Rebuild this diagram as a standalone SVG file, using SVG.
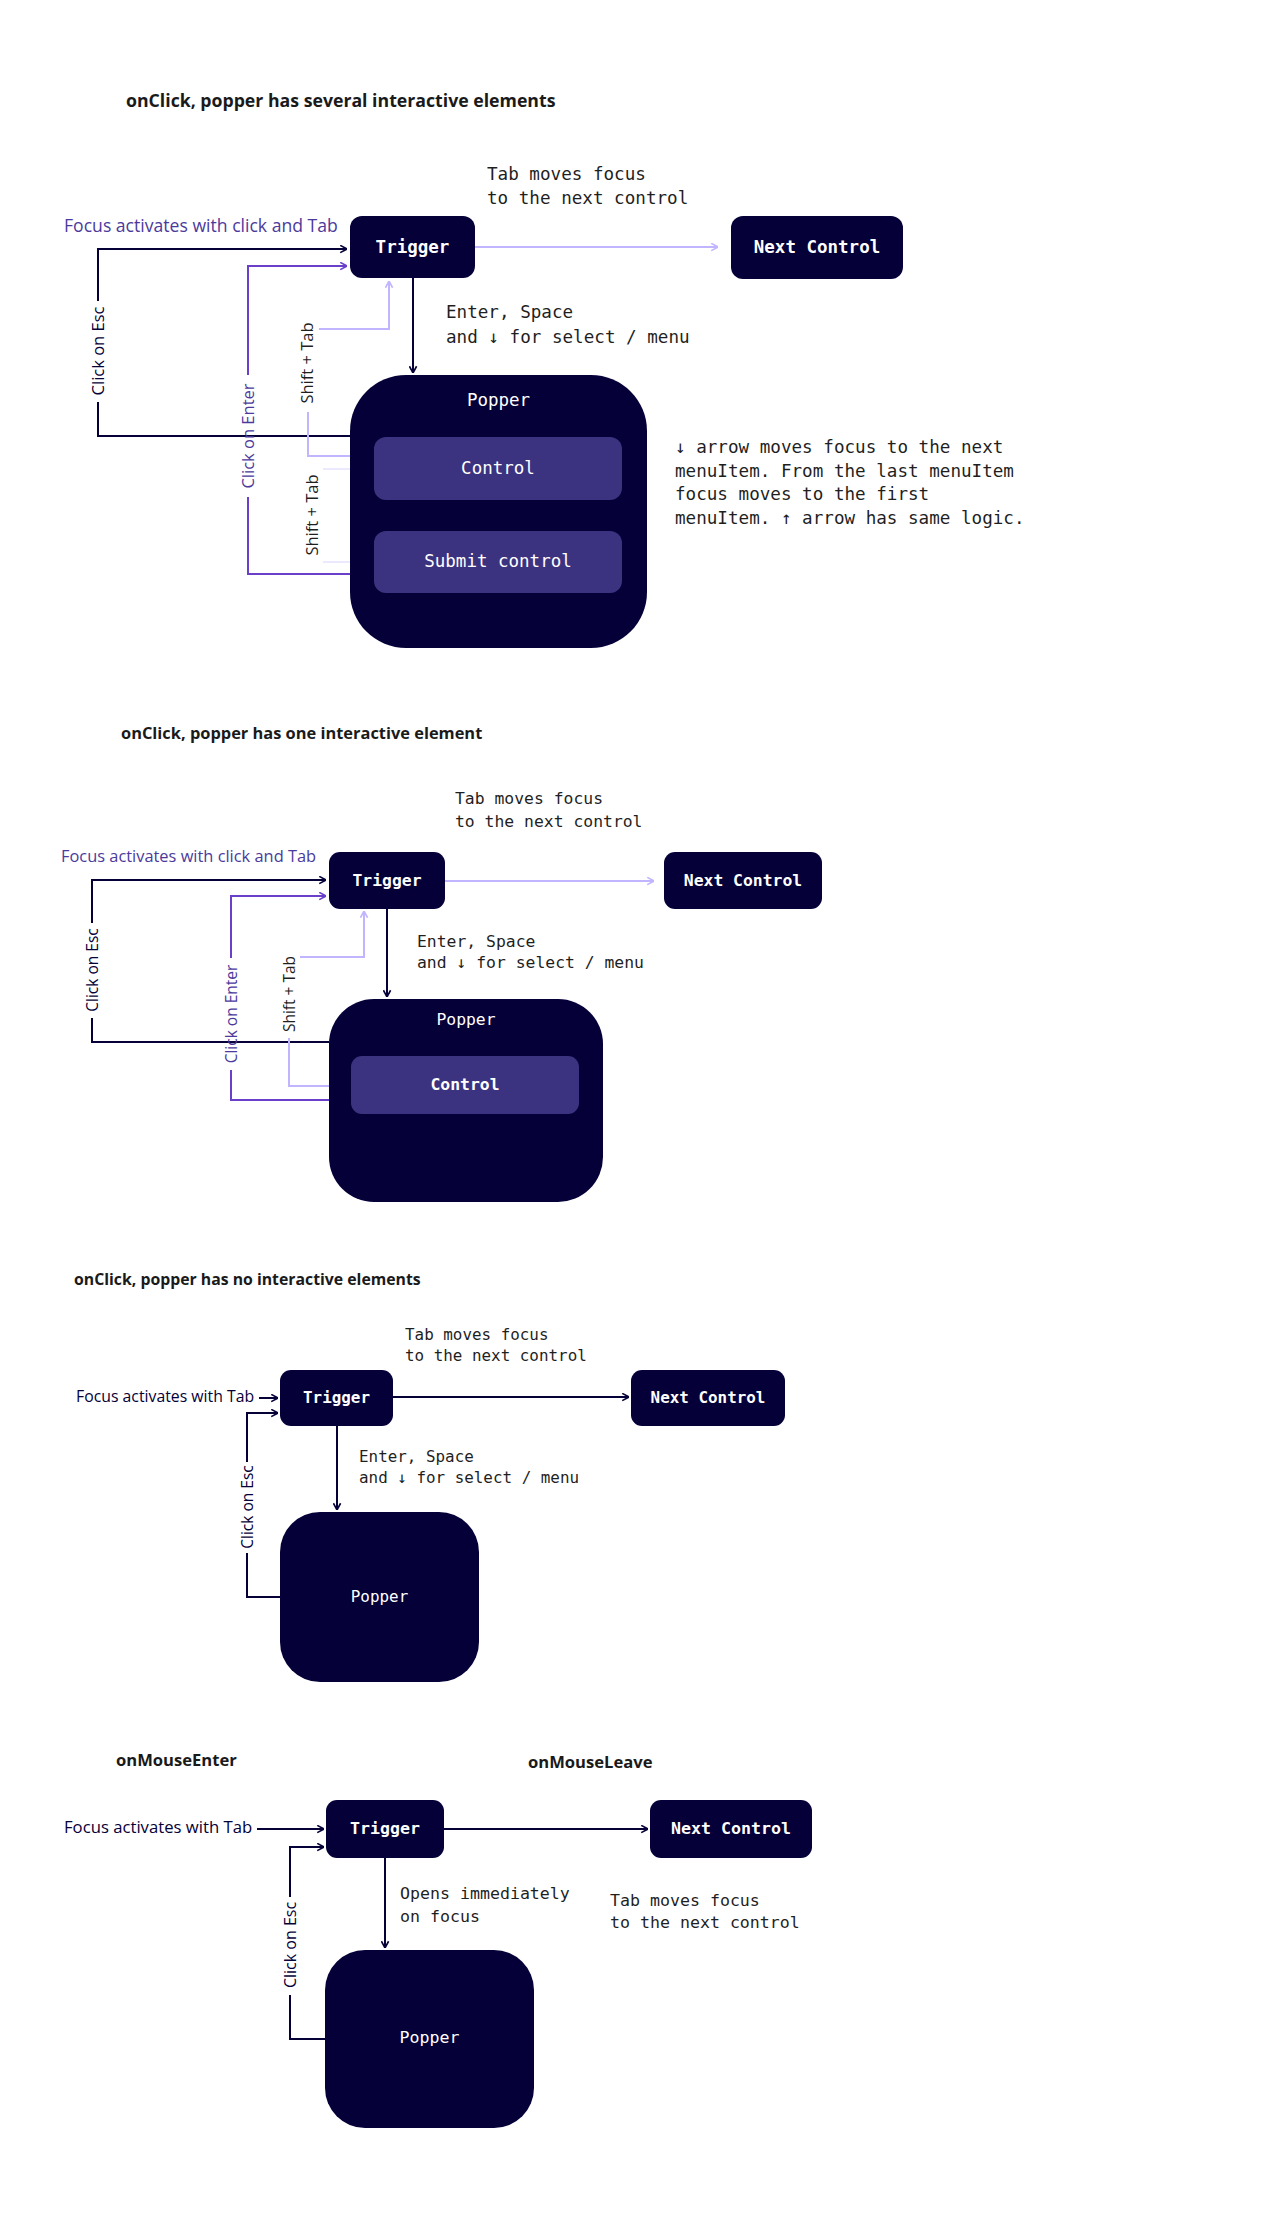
<svg xmlns="http://www.w3.org/2000/svg" width="1261" height="2222" viewBox="0 0 1261 2222">
<style>
.bg{fill:#ffffff}
.node{fill:#050038}
.inner{fill:#3c3380}
.title{font-family:"Open Sans","Noto Sans",sans-serif;font-weight:700;fill:#1a1a1a}
.mono{font-family:"DejaVu Sans Mono","Liberation Mono",monospace;fill:#1f1f1f}
.lbl{font-family:"DejaVu Sans Mono","Liberation Mono",monospace;fill:#ffffff;text-anchor:middle}
.b{font-weight:700}
.sans{font-family:"Open Sans","Noto Sans",sans-serif}
.purpleT{fill:#4b3a9c}
.navyT{fill:#050038}
.grayT{fill:#1f1f1f}
.navy{fill:none;stroke:#050038;stroke-width:2}
.purple{fill:none;stroke:#6a3fc9;stroke-width:2}
.lav{fill:none;stroke:#c2b5ff;stroke-width:2}
.faint{fill:none;stroke:#c9bfff;stroke-width:2;stroke-opacity:0.35}
</style>
<defs>
<marker id="aN" viewBox="0 0 10 10" refX="9.5" refY="5" markerWidth="9" markerHeight="9" markerUnits="userSpaceOnUse" orient="auto"><path d="M2,1 L9.5,5 L2,9" fill="none" stroke="#050038" stroke-width="1.8"/></marker>
<marker id="aP" viewBox="0 0 10 10" refX="9.5" refY="5" markerWidth="9" markerHeight="9" markerUnits="userSpaceOnUse" orient="auto"><path d="M2,1 L9.5,5 L2,9" fill="none" stroke="#6a3fc9" stroke-width="1.8"/></marker>
<marker id="aL" viewBox="0 0 10 10" refX="9.5" refY="5" markerWidth="9" markerHeight="9" markerUnits="userSpaceOnUse" orient="auto"><path d="M2,1 L9.5,5 L2,9" fill="none" stroke="#c2b5ff" stroke-width="1.8"/></marker>
</defs>
<rect class="bg" x="0" y="0" width="1261" height="2222"/>

<!-- ===== Section 1 ===== -->
<text class="title" font-size="17.7" x="126" y="107">onClick, popper has several interactive elements</text>
<g class="mono" font-size="17.6">
<text x="487" y="180">Tab moves focus</text>
<text x="487" y="204">to the next control</text>
<text x="446" y="318">Enter, Space</text>
<text x="446" y="343">and ↓ for select / menu</text>
<text x="675" y="453">↓ arrow moves focus to the next</text>
<text x="675" y="477">menuItem. From the last menuItem</text>
<text x="675" y="500">focus moves to the first</text>
<text x="675" y="524">menuItem. ↑ arrow has same logic.</text>
</g>
<text class="sans purpleT" font-size="17.6" x="64" y="232">Focus activates with click and Tab</text>

<g id="s1-connectors">
<path class="lav" d="M475,247 H718" marker-end="url(#aL)"/>
<path class="navy" d="M413,278 V373" marker-end="url(#aN)"/>
<path class="navy" d="M350,436 H98 V402"/>
<path class="navy" d="M98,301 V249 H347" marker-end="url(#aN)"/>
<path class="purple" d="M374,574 H248 V497"/>
<path class="purple" d="M248,375 V266 H347" marker-end="url(#aP)"/>
<path class="lav" d="M374,456 H308 V412"/>
<path class="lav" d="M319,329 H389 V281" marker-end="url(#aL)"/>
<path class="faint" d="M323,469 H374"/>
<path class="faint" d="M323,562 H374"/>
</g>
<text class="sans navyT" font-size="16.5" text-anchor="middle" transform="translate(104,351) rotate(-90)">Click on Esc</text>
<text class="sans purpleT" font-size="16.5" text-anchor="middle" transform="translate(254,436) rotate(-90)">Click on Enter</text>
<text class="sans grayT" font-size="16.5" text-anchor="middle" transform="translate(313,363) rotate(-90)">Shift + Tab</text>
<text class="sans grayT" font-size="16.5" text-anchor="middle" transform="translate(318,515) rotate(-90)">Shift + Tab</text>

<g id="s1-trigger"><rect class="node" x="350" y="216" width="125" height="62" rx="12"/><text class="lbl b" font-size="17.5" x="412.5" y="253">Trigger</text></g>
<g id="s1-next"><rect class="node" x="731" y="216" width="172" height="63" rx="12"/><text class="lbl b" font-size="17.5" x="817" y="253">Next Control</text></g>
<g id="s1-popper"><rect class="node" x="350" y="375" width="297" height="273" rx="56"/><text class="lbl" font-size="17.5" x="498.5" y="406">Popper</text></g>
<g id="s1-control"><rect class="inner" x="374" y="437" width="248" height="63" rx="12"/><text class="lbl" font-size="17.5" x="498" y="474">Control</text></g>
<g id="s1-submit"><rect class="inner" x="374" y="531" width="248" height="62" rx="12"/><text class="lbl" font-size="17.5" x="498" y="567">Submit control</text></g>

<!-- ===== Section 2 ===== -->
<text class="title" font-size="16.4" x="121" y="739">onClick, popper has one interactive element</text>
<g class="mono" font-size="16.4">
<text x="455" y="804">Tab moves focus</text>
<text x="455" y="827">to the next control</text>
<text x="417" y="947">Enter, Space</text>
<text x="417" y="968">and ↓ for select / menu</text>
</g>
<text class="sans purpleT" font-size="16.4" x="61" y="862">Focus activates with click and Tab</text>

<g id="s2-connectors">
<path class="lav" d="M445,881 H654" marker-end="url(#aL)"/>
<path class="navy" d="M387,909 V997" marker-end="url(#aN)"/>
<path class="navy" d="M329,1042 H92 V1018"/>
<path class="navy" d="M92,923 V880 H326" marker-end="url(#aN)"/>
<path class="purple" d="M351,1100 H231 V1070"/>
<path class="purple" d="M231,958 V896 H326" marker-end="url(#aP)"/>
<path class="lav" d="M300,957 H364 V911" marker-end="url(#aL)"/>
<path class="lav" d="M289,1038 V1086 H351"/>
</g>
<text class="sans navyT" font-size="15.5" text-anchor="middle" transform="translate(98,970) rotate(-90)">Click on Esc</text>
<text class="sans purpleT" font-size="15.5" text-anchor="middle" transform="translate(237,1014) rotate(-90)">Click on Enter</text>
<text class="sans grayT" font-size="15.5" text-anchor="middle" transform="translate(295,994) rotate(-90)">Shift + Tab</text>

<g id="s2-trigger"><rect class="node" x="329" y="852" width="116" height="57" rx="11"/><text class="lbl b" font-size="16.4" x="387" y="886">Trigger</text></g>
<g id="s2-next"><rect class="node" x="664" y="852" width="158" height="57" rx="11"/><text class="lbl b" font-size="16.4" x="743" y="886">Next Control</text></g>
<g id="s2-popper"><rect class="node" x="329" y="999" width="274" height="203" rx="45"/><text class="lbl" font-size="16.4" x="466" y="1025">Popper</text></g>
<g id="s2-control"><rect class="inner" x="351" y="1056" width="228" height="58" rx="11"/><text class="lbl b" font-size="16.4" x="465" y="1090">Control</text></g>

<!-- ===== Section 3 ===== -->
<text class="title" font-size="15.8" x="74" y="1285">onClick, popper has no interactive elements</text>
<g class="mono" font-size="15.9">
<text x="405" y="1340">Tab moves focus</text>
<text x="405" y="1361">to the next control</text>
<text x="359" y="1462">Enter, Space</text>
<text x="359" y="1483">and ↓ for select / menu</text>
</g>
<text class="sans navyT" font-size="15.8" x="76" y="1402">Focus activates with Tab</text>

<g id="s3-connectors">
<path class="navy" d="M259,1398 H278" marker-end="url(#aN)"/>
<path class="navy" d="M393,1397 H629" marker-end="url(#aN)"/>
<path class="navy" d="M337,1426 V1510" marker-end="url(#aN)"/>
<path class="navy" d="M280,1597 H247 V1553"/>
<path class="navy" d="M247,1462 V1413 H278" marker-end="url(#aN)"/>
</g>
<text class="sans navyT" font-size="15.5" text-anchor="middle" transform="translate(253,1507) rotate(-90)">Click on Esc</text>

<g id="s3-trigger"><rect class="node" x="280" y="1370" width="113" height="56" rx="11"/><text class="lbl b" font-size="15.9" x="336.5" y="1403">Trigger</text></g>
<g id="s3-next"><rect class="node" x="631" y="1370" width="154" height="56" rx="11"/><text class="lbl b" font-size="15.9" x="708" y="1403">Next Control</text></g>
<g id="s3-popper"><rect class="node" x="280" y="1512" width="199" height="170" rx="40"/><text class="lbl" font-size="15.9" x="379.5" y="1602">Popper</text></g>

<!-- ===== Section 4 ===== -->
<text class="title" font-size="16.6" x="116" y="1766">onMouseEnter</text>
<text class="title" font-size="16.6" x="528" y="1768">onMouseLeave</text>
<g class="mono" font-size="16.6">
<text x="400" y="1899">Opens immediately</text>
<text x="400" y="1922">on focus</text>
<text x="610" y="1906">Tab moves focus</text>
<text x="610" y="1928">to the next control</text>
</g>
<text class="sans navyT" font-size="16.7" x="64" y="1833">Focus activates with Tab</text>

<g id="s4-connectors">
<path class="navy" d="M257,1829 H324" marker-end="url(#aN)"/>
<path class="navy" d="M444,1829 H648" marker-end="url(#aN)"/>
<path class="navy" d="M385,1858 V1948" marker-end="url(#aN)"/>
<path class="navy" d="M325,2039 H290 V1995"/>
<path class="navy" d="M290,1897 V1847 H324" marker-end="url(#aN)"/>
</g>
<text class="sans navyT" font-size="16" text-anchor="middle" transform="translate(296,1945) rotate(-90)">Click on Esc</text>

<g id="s4-trigger"><rect class="node" x="326" y="1800" width="118" height="58" rx="11"/><text class="lbl b" font-size="16.6" x="385" y="1834">Trigger</text></g>
<g id="s4-next"><rect class="node" x="650" y="1800" width="162" height="58" rx="11"/><text class="lbl b" font-size="16.6" x="731" y="1834">Next Control</text></g>
<g id="s4-popper"><rect class="node" x="325" y="1950" width="209" height="178" rx="40"/><text class="lbl" font-size="16.6" x="429.5" y="2043">Popper</text></g>
</svg>
